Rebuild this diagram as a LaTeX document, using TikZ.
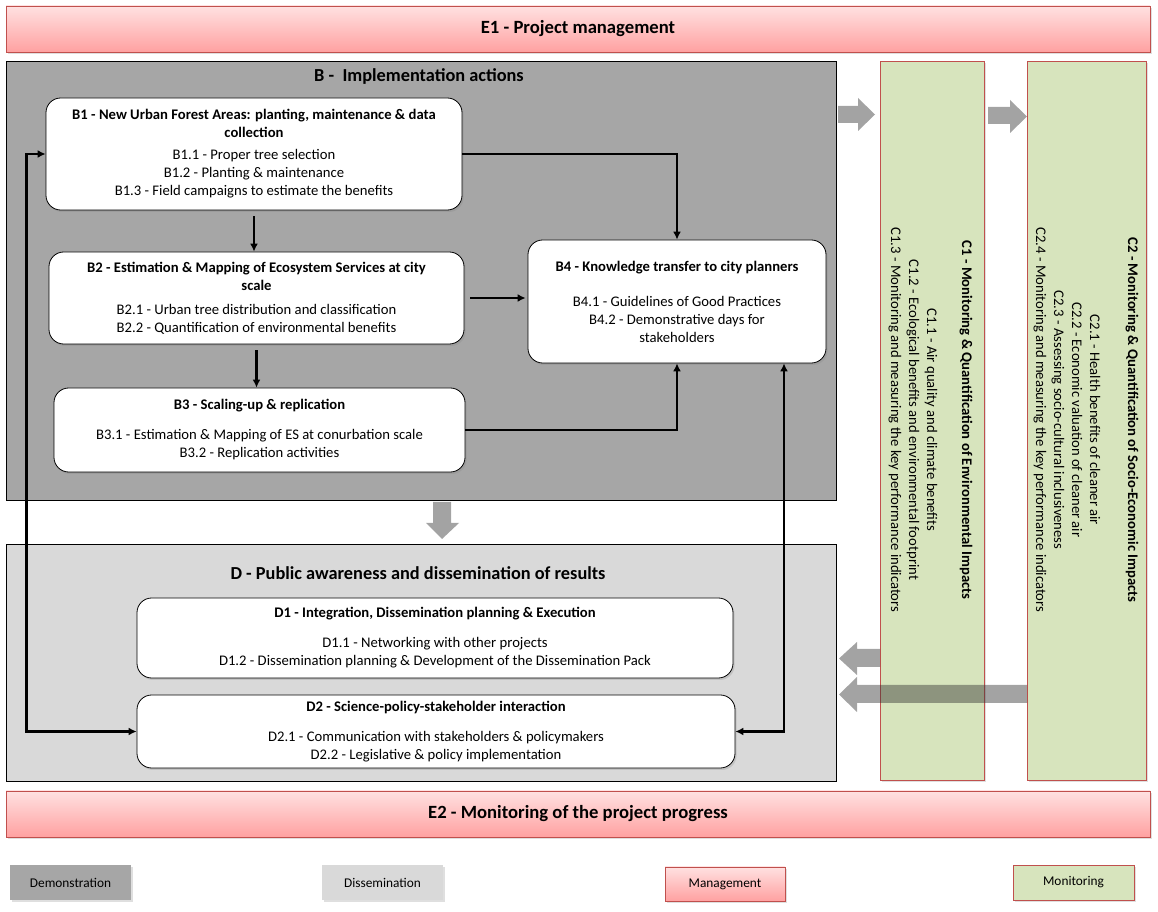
\documentclass[tikz,border=0pt]{standalone}
\usepackage{fontspec}
\setmainfont{Carlito}
\usetikzlibrary{arrows.meta,shadows,calc}

\definecolor{demogray}{HTML}{A6A6A6}
\definecolor{dissgray}{HTML}{D9D9D9}
\definecolor{monigreen}{HTML}{D7E4BD}
\definecolor{mgmtred}{HTML}{C0504D}
\definecolor{pinktop}{HTML}{FFE1E1}
\definecolor{pinkbot}{HTML}{FFA1A1}

\begin{document}
\begin{tikzpicture}[x=0.75pt,y=-0.75pt,
	every node/.style={inner sep=0pt,align=center,font=\fontsize{11}{13.5}\selectfont},
	wh/.style 2 args={minimum width=#1*0.75pt,minimum height=#2*0.75pt},
	shadowed/.style={drop shadow={opacity=0.25,shadow xshift=1.2pt,shadow yshift=-1.5pt}},
	mgmt/.style={draw=mgmtred,top color=pinktop,bottom color=pinkbot,shadowed},
	area/.style={draw=black,line width=0.7pt},
	task/.style={draw=black,fill=white,rounded corners=11pt,line width=0.6pt,shadowed},
	moni/.style={draw=mgmtred,fill=monigreen,line width=0.6pt,shadowed},
	link/.style={line width=1.9pt,-{Latex[length=6pt,width=6pt]}},
	linkboth/.style={line width=1.9pt,{Latex[length=6pt,width=6pt]}-{Latex[length=6pt,width=6pt]}},
	blockarrow/.style={fill=black!80,fill opacity=0.45},
	bigtitle/.style={font=\bfseries\fontsize{14}{17}\selectfont},
	areatitle/.style={font=\bfseries\fontsize{13.75}{16}\selectfont}]
	\useasboundingbox (0,0) rectangle (1158,912);
	
	% management bars
	\node[mgmt,wh={1144}{46},bigtitle] (E1) at (578,29) {\raisebox{-1.5pt}{E1 - Project management}};
	\node[mgmt,wh={1144}{46},bigtitle] (E2) at (578,814) {\raisebox{-1.5pt}{E2 - Monitoring of the project progress}};
	
	% B - implementation
	\node[area,fill=demogray,wh={830}{439}] (Barea) at (421,280.5) {};
	\node[areatitle] (Btitle) at (419,77) {B -\ \ Implementation actions};
	\node[task,wh={416}{112}] (B1) at (254,154) {\textbf{B1 - New Urban Forest Areas: planting, maintenance \& data}\\\textbf{collection}\\[3pt]
		B1.1 - Proper tree selection\\B1.2 - Planting \& maintenance\\B1.3 - Field campaigns to estimate the benefits};
	\node[task,wh={415}{92}] (B2) at (256.5,298) {\textbf{B2 - Estimation \& Mapping of Ecosystem Services at city}\\\textbf{scale}\\[4.5pt]
		B2.1 - Urban tree distribution and classification\\B2.2 - Quantification of environmental benefits};
	\node[task,wh={411}{84}] (B3) at (259.5,430) {\textbf{B3 - Scaling-up \& replication}\\[9pt]
		B3.1 - Estimation \& Mapping of ES at conurbation scale\\B3.2 - Replication activities};
	\node[task,wh={298}{123}] (B4) at (677,301.5) {\textbf{B4 - Knowledge transfer to city planners}\\[12.75pt]
		B4.1 - Guidelines of Good Practices\\B4.2 - Demonstrative days for\\stakeholders};
	
	% D - dissemination
	\node[area,fill=dissgray,wh={830}{237}] (Darea) at (421,662.5) {};
	\node[areatitle] (Dtitle) at (418,573) {D - Public awareness and dissemination of results};
	\node[task,wh={596}{80}] (D1) at (435,638) {\textbf{D1 - Integration, Dissemination planning \& Execution}\\[9pt]
		D1.1 - Networking with other projects\\D1.2 - Dissemination planning \& Development of the Dissemination Pack};
	\node[task,wh={598}{73}] (D2) at (436,731.5) {\textbf{D2 - Science-policy-stakeholder interaction}\\[9pt]
		D2.1 - Communication with stakeholders \& policymakers\\D2.2 - Legislative \& policy implementation};
	
	% C - monitoring columns
	\node[moni,wh={104}{719}] (C1) at (932,420.5) {};
	\node[moni,wh={119}{719}] (C2) at (1086.5,420.5) {};
	\node[rotate=-90] (C1text) at (930.5,420) {\textbf{C1 - Monitoring \& Quantification of Environmental Impacts}\\[12.75pt]
		C1.1 - Air quality and climate benefits\\C1.2 - Ecological benefits and environmental footprint\\C1.3 - Monitoring and measuring the key performance indicators};
	\node[rotate=-90] (C2text) at (1086,420) {\textbf{C2 - Monitoring \& Quantification of Socio-Economic Impacts}\\[15pt]
		C2.1 - Health benefits of cleaner air\\C2.2 - Economic valuation of cleaner air\\C2.3 - Assessing socio-cultural inclusiveness\\C2.4 - Monitoring and measuring the key performance indicators};
	
	% links between tasks
	\draw[link,shorten <=4.5pt] (B1.south) -- (B1.south |- B2.north);
	\draw[link,shorten <=4.5pt] (B2.south) -- (B2.south |- B3.north);
	\draw[link,shorten <=4.5pt,shorten >=1.5pt] (B2.east) -- (B2.east -| B4.west);
	\draw[link] (B1.east) -| (B4.north);
	\draw[link] (B3.east) -| (B4.south);
	\draw[linkboth] (B1.west) -- ++(-19,0) |- (D2.west);
	\draw[linkboth] ([xshift=80.25pt]B4.south) |- (D2.east);
	
	% grey block arrows
	\fill[blockarrow] (838,106) -- (858,106) -- (858,98) -- (875,114.5) -- (858,131) -- (858,123) -- (838,123) -- cycle;
	\fill[blockarrow] (988,107) -- (1010,107) -- (1010,100) -- (1027,116.5) -- (1010,133) -- (1010,124) -- (988,124) -- cycle;
	\fill[blockarrow] (433,502) -- (451,502) -- (451,523) -- (459,523) -- (442,539) -- (426,523) -- (433,523) -- cycle;
	\fill[blockarrow] (880,649) -- (857,649) -- (857,642) -- (839,658.5) -- (857,675) -- (857,667) -- (880,667) -- cycle;
	\fill[blockarrow] (1027,685) -- (857,685) -- (857,677) -- (839,694.5) -- (857,712) -- (857,703) -- (1027,703) -- cycle;
	
	% legend
	\node[fill=demogray,wh={121}{35},shadowed,font=\fontsize{10}{12}\selectfont] (legdemo) at (70.5,882.5) {Demonstration};
	\node[fill=dissgray,wh={121}{35},shadowed,font=\fontsize{10}{12}\selectfont] (legdiss) at (382.5,882.5) {Dissemination};
	\node[mgmt,wh={120}{34},font=\fontsize{10}{12}\selectfont] (legmgmt) at (725,884) {Management};
	\node[moni,wh={121}{35},font=\fontsize{10}{12}\selectfont] (legmoni) at (1073.5,882.5) {Monitoring};
\end{tikzpicture}
\end{document}
